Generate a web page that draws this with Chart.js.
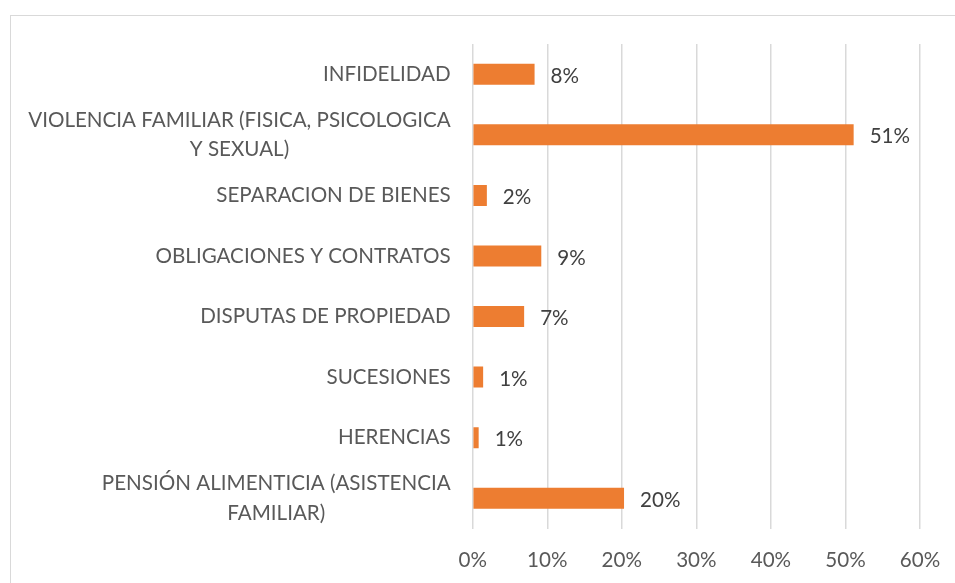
<!DOCTYPE html>
<html>
<head>
<meta charset="utf-8">
<script src="https://cdn.jsdelivr.net/npm/chart.js@4/dist/chart.umd.min.js"></script>
<style>
  html, body { margin: 0; padding: 0; background: #ffffff; overflow: hidden; }
  #frame { position: absolute; left: 10px; top: 15px; width: 1000px; height: 700px; border: 1px solid #d9d9d9; box-sizing: border-box; }
  #wrap { position: absolute; left: 0; top: 0; width: 955px; height: 583px; }
</style>
</head>
<body>
<div id="frame"></div>
<div id="wrap"><canvas id="c" width="955" height="583"></canvas></div>
<script>
const categories = [
  "INFIDELIDAD",
  ["VIOLENCIA FAMILIAR (FISICA, PSICOLOGICA", "Y SEXUAL)"],
  "SEPARACION DE BIENES",
  "OBLIGACIONES Y CONTRATOS",
  "DISPUTAS DE PROPIEDAD",
  "SUCESIONES",
  "HERENCIAS",
  ["PENSIÓN ALIMENTICIA (ASISTENCIA", "FAMILIAR)"]
];
const percentValues = [8.3, 51.1, 1.9, 9.2, 6.9, 1.4, 0.8, 20.3];
const axisMin = 0;
const axisMax = 60;
const axisStep = 10;

const FONT = "Lato, 'Open Sans', sans-serif";
const FONT_SIZE = 20.6;

// Center the lines of multi-line category labels within their block (as Excel does)
const centerMultiline = {
  id: 'centerMultiline',
  beforeDraw(chart) {
    const scale = chart.scales.y;
    const items = scale.getLabelItems(chart.chartArea);
    const ctx = chart.ctx;
    items.forEach(it => {
      if (Array.isArray(it.label) && it.label.length > 1) {
        ctx.save();
        ctx.font = it.font.string;
        const w = Math.max(...it.label.map(l => ctx.measureText(l).width));
        ctx.restore();
        it.options.textAlign = 'center';
        it.options.translation = [it.options.translation[0] - w / 2, it.options.translation[1]];
      }
    });
  }
};

// Value labels at the end of each bar
const valueLabels = {
  id: 'valueLabels',
  afterDatasetsDraw(chart) {
    const ctx = chart.ctx;
    const meta = chart.getDatasetMeta(0);
    ctx.save();
    ctx.font = FONT_SIZE + "px " + FONT;
    ctx.fillStyle = '#404040';
    ctx.textAlign = 'left';
    ctx.textBaseline = 'middle';
    meta.data.forEach((bar, i) => {
      const v = chart.data.datasets[0].data[i];
      ctx.fillText(Math.round(v) + '%', bar.x + 16, bar.y + 2);
    });
    ctx.restore();
  }
};

new Chart(document.getElementById('c'), {
  type: 'bar',
  data: {
    labels: categories,
    datasets: [{
      data: percentValues,
      backgroundColor: '#ED7D31',
      borderWidth: 0,
      barPercentage: 0.346,
      categoryPercentage: 1
    }]
  },
  options: {
    indexAxis: 'y',
    responsive: false,
    animation: false,
    devicePixelRatio: 1,
    layout: { padding: { top: 44, right: 35, left: 0, bottom: 0 } },
    plugins: { legend: { display: false }, tooltip: { enabled: false } },
    scales: {
      x: {
        min: axisMin,
        max: axisMax,
        grid: { color: '#d9d9d9', lineWidth: 1.5, drawTicks: false },
        border: { display: false },
        ticks: {
          stepSize: axisStep,
          padding: 19,
          color: '#595959',
          font: { family: FONT, size: FONT_SIZE },
          callback: v => v + '%'
        },
        afterFit(scale) { scale.height = 54.5; scale.paddingLeft = 0; scale.paddingRight = 0; }
      },
      y: {
        grid: { display: false, drawTicks: false },
        border: { display: false },
        ticks: {
          autoSkip: false,
          padding: 22,
          color: '#595959',
          font: { family: FONT, size: FONT_SIZE, lineHeight: 1.45 }
        },
        afterFit(scale) { scale.width = 472.7; scale.paddingTop = 0; scale.paddingBottom = 0; }
      }
    }
  },
  plugins: [centerMultiline, valueLabels]
});
</script>
</body>
</html>
